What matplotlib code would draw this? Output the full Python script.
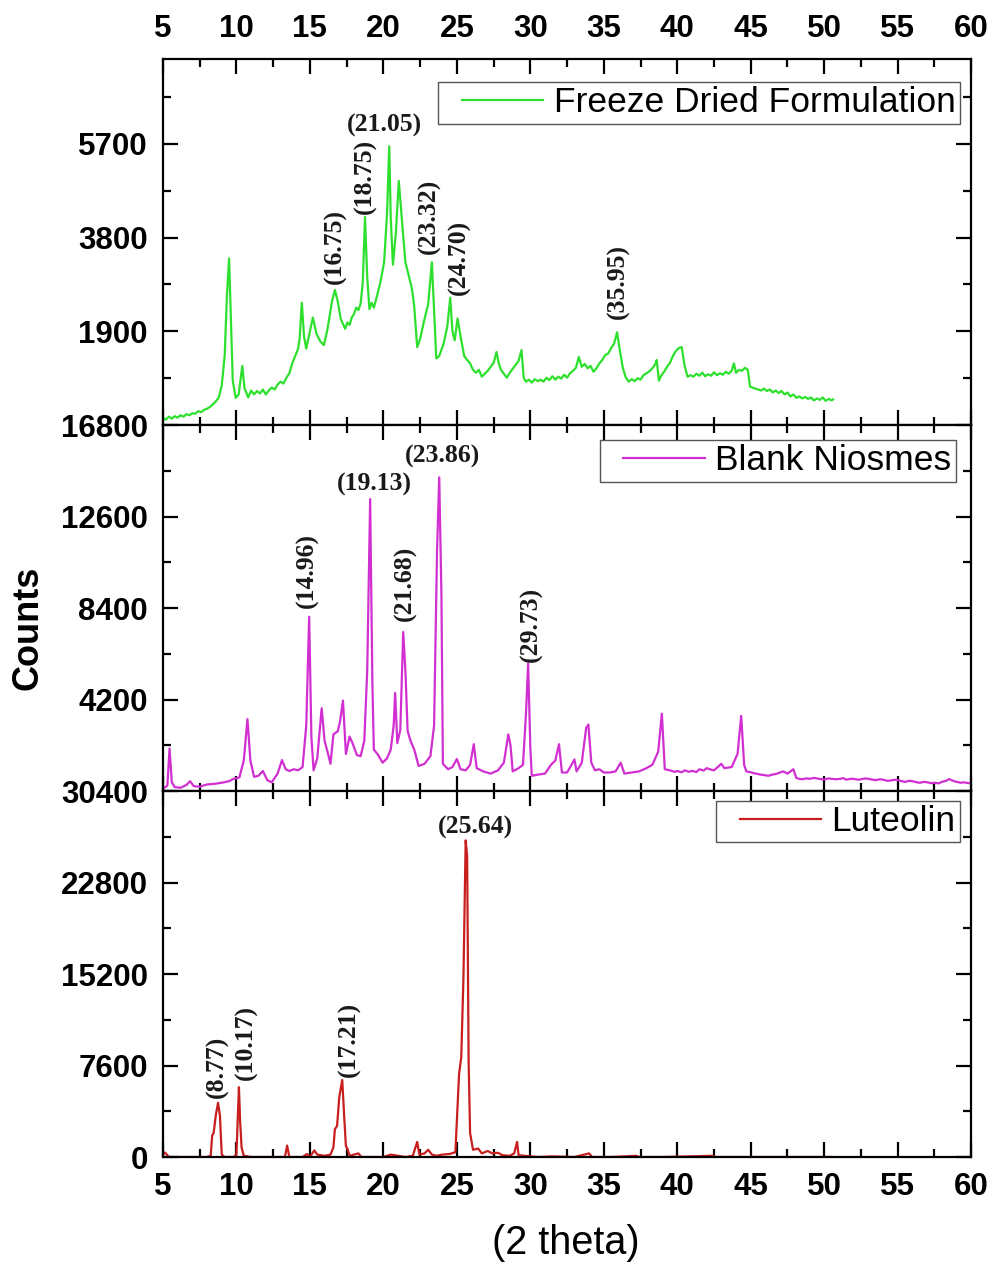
import numpy as np
import matplotlib
matplotlib.use("Agg")
import matplotlib.pyplot as plt
from matplotlib.legend_handler import HandlerLine2D

plt.rcParams["font.family"] = ["Liberation Sans", "DejaVu Sans"]
plt.rcParams["font.weight"] = "bold"

# Freeze dried formulation
fd_x = [5.0, 5.2, 5.4, 5.6, 5.8, 6.0, 6.2, 6.4, 6.6, 6.8, 7.0, 7.2, 7.4, 7.6, 7.8, 8.0, 8.2, 8.4,
        8.6, 8.8, 9.0, 9.2, 9.35, 9.5, 9.6, 9.75, 9.95, 10.15, 10.4, 10.55, 10.8, 11.0, 11.2, 11.4,
        11.6, 11.8, 12.0, 12.2, 12.4, 12.6, 12.8, 13.0, 13.2, 13.4, 13.6, 13.8, 14.0, 14.2, 14.3,
        14.45, 14.6, 14.75, 15.0, 15.2, 15.45, 15.7, 15.95, 16.2, 16.5, 16.7, 16.9, 17.1, 17.4, 17.55,
        17.7, 17.85, 18.0, 18.15, 18.3, 18.45, 18.6, 18.75, 18.9, 19.05, 19.2, 19.35, 19.55, 19.8,
        20.05, 20.25, 20.4, 20.5, 20.65, 20.85, 21.05, 21.25, 21.5, 21.75, 21.95, 22.1, 22.3, 22.5,
        22.8, 23.05, 23.3, 23.45, 23.6, 23.8, 24.1, 24.35, 24.55, 24.7, 24.85, 25.05, 25.25, 25.5,
        25.7, 25.9, 26.1, 26.3, 26.5, 26.7, 26.9, 27.1, 27.3, 27.5, 27.7, 27.85, 28.0, 28.2, 28.4,
        28.6, 28.8, 29.0, 29.2, 29.4, 29.55, 29.7, 29.9, 30.1, 30.3, 30.5, 30.7, 30.9, 31.1, 31.3,
        31.5, 31.7, 31.9, 32.1, 32.3, 32.5, 32.7, 32.9, 33.1, 33.3, 33.5, 33.7, 33.9, 34.1, 34.3,
        34.5, 34.7, 34.9, 35.1, 35.3, 35.5, 35.7, 35.9, 36.1, 36.3, 36.5, 36.7, 36.9, 37.1, 37.3,
        37.5, 37.7, 37.9, 38.1, 38.3, 38.5, 38.6, 38.75, 38.9, 39.1, 39.3, 39.5, 39.7, 39.9, 40.1,
        40.3, 40.5, 40.7, 40.9, 41.1, 41.3, 41.5, 41.7, 41.9, 42.1, 42.3, 42.5, 42.7, 42.9, 43.1,
        43.3, 43.5, 43.7, 43.85, 44.0, 44.2, 44.4, 44.6, 44.8, 44.95, 45.1, 45.3, 45.5, 45.7, 45.9,
        46.1, 46.3, 46.5, 46.7, 46.9, 47.1, 47.3, 47.5, 47.7, 47.9, 48.1, 48.3, 48.5, 48.7, 48.9,
        49.1, 49.3, 49.5, 49.7, 49.9, 50.1, 50.3, 50.5, 50.6]
fd_y = [150, 110, 170, 130, 180, 150, 200, 170, 220, 200, 240, 230, 280, 260, 310, 330, 370, 420,
        480, 560, 800, 1400, 2600, 3380, 2400, 900, 550, 620, 1200, 750, 560, 700, 620, 690,
        640, 720, 620, 700, 760, 720, 820, 880, 840, 960, 1050, 1250, 1400, 1550, 1750,
        2480, 1800, 1550, 1900, 2180, 1850, 1700, 1620, 1950, 2500, 2740, 2500, 2150, 1950, 2080,
        2030, 2180, 2250, 2380, 2330, 2460, 2900, 4220, 3000, 2350, 2480, 2380, 2600, 2900,
        3300, 4300, 5650, 4200, 3250, 3900, 4950, 4200, 3300, 3000, 2750, 2400, 1580, 1750,
        2150, 2450, 3300, 2300, 1350, 1400, 1650, 2000, 2580, 1900, 1720, 2160, 1800, 1400,
        1320, 1250, 1120, 1060, 1120, 980, 1040, 1100, 1180, 1260, 1480, 1250, 1120, 1040, 960,
        1060, 1140, 1220, 1300, 1520, 960, 880, 920, 860, 930, 890, 920, 880, 960, 910,
        990, 920, 980, 940, 1020, 960, 1050, 1100, 1160, 1380, 1180, 1240, 1150, 1200, 1080,
        1150, 1250, 1320, 1420, 1450, 1560, 1650, 1880, 1500, 1150, 960, 880, 930, 890, 950,
        920, 1010, 1050, 1090, 1150, 1230, 1320, 900, 1000, 1080, 1180, 1260, 1400, 1500, 1560,
        1580, 1200, 980, 1010, 980, 1040, 1000, 1060, 990, 1030, 1000, 1070, 1010, 1050, 1020,
        1080, 1040, 1100, 1250, 1060, 1120, 1100, 1160, 1120, 780, 760, 740, 720, 700, 740,
        690, 720, 660, 700, 650, 690, 620, 660, 580, 620, 550, 580, 540, 570, 530,
        560, 500, 540, 510, 560, 490, 530, 500, 520]

# Blank niosomes (middle panel)
bn_x = [5.0, 5.3, 5.45, 5.6, 5.8, 6.2, 6.6, 6.85, 7.1, 7.5, 8.0, 8.5, 9.0, 9.5, 9.8, 10.2, 10.5, 10.75,
        10.95, 11.2, 11.5, 11.8, 12.1, 12.4, 12.8, 13.1, 13.35, 13.6, 13.9, 14.2, 14.5, 14.75, 14.95,
        15.1, 15.25, 15.5, 15.8, 16.0, 16.2, 16.4, 16.6, 16.9, 17.05, 17.25, 17.45, 17.7, 17.9, 18.2,
        18.45, 18.7, 18.9, 19.1, 19.25, 19.35, 19.6, 19.95, 20.25, 20.5, 20.7, 20.8, 20.95, 21.15, 21.35,
        21.5, 21.65, 21.85, 22.1, 22.4, 22.8, 23.2, 23.45, 23.65, 23.8, 23.95, 24.05, 24.4, 24.7, 25.0,
        25.25, 25.6, 25.9, 26.15, 26.35, 26.8, 27.3, 27.8, 28.2, 28.5, 28.65, 28.8, 29.2, 29.5, 29.7,
        29.85, 30.0, 30.1, 30.5, 31.0, 31.4, 31.7, 31.95, 32.15, 32.5, 32.8, 33.0, 33.15, 33.5, 33.8,
        33.95, 34.15, 34.4, 34.7, 35.0, 35.4, 35.8, 36.15, 36.4, 36.9, 37.4, 37.9, 38.3, 38.7, 38.95,
        39.15, 39.5, 39.8, 40.0, 40.3, 40.5, 40.8, 41.0, 41.3, 41.5, 41.8, 42.0, 42.3, 42.5, 43.0,
        43.2, 43.7, 44.1, 44.35, 44.55, 44.7, 45.0, 45.2, 45.5, 45.7, 46.0, 46.2, 46.5, 46.7, 47.0,
        47.2, 47.5, 47.9, 48.1, 48.3, 48.5, 48.8, 49.0, 49.3, 49.5, 49.8, 50.0, 50.3, 50.5, 50.8,
        51.0, 51.3, 51.5, 51.8, 52.0, 52.3, 52.5, 52.8, 53.0, 53.3, 53.5, 53.8, 54.0, 54.3, 54.5,
        54.8, 55.0, 55.3, 55.5, 55.8, 56.0, 56.3, 56.5, 56.8, 57.0, 57.3, 57.5, 57.8, 58.0, 58.3,
        58.5, 58.8, 59.0, 59.3, 59.5, 59.8, 60.0]
bn_y = [100, 250, 1950, 400, 180, 150, 280, 450, 220, 200, 300, 330, 380, 450, 560, 620, 1400, 3300,
        1400, 650, 700, 920, 500, 400, 800, 1420, 1000, 920, 1000, 950, 1100, 3000, 8000,
        2500, 950, 1500, 3800, 2300, 1800, 1250, 2600, 2750, 3200, 4150, 1700, 2500, 2200, 1650,
        1600, 2300, 5500, 13400, 5000, 1900, 1700, 1300, 1500, 1900, 3000, 4500, 2200, 2800, 7300,
        5500, 2750, 2300, 1900, 1150, 1250, 1600, 3000, 11000, 14400, 9000, 1250, 1000, 1100, 1470,
        1000, 950, 1200, 2150, 1050, 900, 800, 950, 1300, 2600, 2100, 900, 1050, 1200, 3500,
        5850, 2000, 700, 750, 800, 1200, 1400, 2150, 850, 850, 1200, 1450, 900, 1300, 2900,
        3050, 1300, 950, 1000, 850, 850, 900, 1300, 800, 850, 900, 1050, 1200, 1800, 3550,
        1000, 950, 880, 920, 860, 950, 880, 930, 870, 1000, 940, 1050, 980, 950, 1250,
        1050, 1100, 1700, 3450, 1200, 900, 860, 820, 780, 750, 720, 700, 760, 780, 850,
        900, 800, 1000, 600, 560, 540, 580, 560, 600, 580, 540, 530, 580, 560, 540,
        550, 590, 520, 560, 560, 520, 540, 580, 560, 520, 500, 540, 520, 470, 480,
        520, 500, 450, 420, 470, 450, 400, 380, 420, 400, 360, 380, 350, 420, 470,
        550, 460, 420, 380, 400, 360, 380]

# Luteolin (bottom panel)
lu_x = [5.0, 5.05, 5.2, 5.4, 6.0, 7.0, 8.0, 8.25, 8.35, 8.45, 8.6, 8.75, 8.88, 9.0, 9.2, 9.8, 10.0,
        10.1, 10.17, 10.25, 10.35, 10.5, 11.0, 12.0, 13.3, 13.45, 13.6, 14.5, 14.8, 15.0, 15.3, 15.5,
        16.0, 16.4, 16.6, 16.7, 16.85, 17.0, 17.2, 17.35, 17.45, 17.55, 17.7, 18.3, 18.5, 19.5, 20.0,
        20.5, 21.0, 21.5, 22.0, 22.3, 22.45, 22.8, 23.05, 23.3, 23.6, 24.0, 24.5, 24.9, 25.15, 25.3,
        25.45, 25.6, 25.7, 25.8, 25.9, 26.1, 26.45, 26.7, 27.1, 27.4, 27.8, 28.1, 28.6, 28.9, 29.1,
        29.2, 29.6, 30.5, 31.5, 33.0, 34.0, 34.2, 35.5, 37.2, 37.4, 39.0, 42.4, 42.6, 45.0, 48.0, 50.5]
lu_y = [0, 400, 300, 0, 0, 0, 0, 100, 1800, 2000, 3500, 4500, 3400, 200, 0, 0, 200,
        3500, 5800, 3000, 800, 100, 0, 0, 0, 950, 0, 0, 250, 0, 550, 200,
        100, 200, 800, 2300, 2600, 5000, 6400, 3000, 900, 700, 100, 300, 0, 0, 0,
        200, 100, 0, 100, 1250, 200, 300, 600, 200, 100, 200, 250, 400, 6900, 8300,
        15000, 26300, 25000, 8000, 2000, 600, 700, 300, 500, 300, 350, 150, 100, 300, 1250,
        150, 100, 0, 50, 0, 300, 0, 0, 100, 0, 0, 100, 0, 0, 0, 0]

series_names = ["Freeze Dried Formulation", "Blank Niosmes", "Luteolin"]
colors = ["#2ee02e", "#d12fd1", "#c81e1e"]

# peak labels: text, x, y, rotation
fd_peaks = [("(16.75)", 16.7, 3620, 90), ("(18.75)", 18.75, 5050, 90), ("(21.05)", 20.1, 6070, 0),
            ("(23.32)", 23.1, 4230, 90), ("(24.70)", 25.2, 3390, 90), ("(35.95)", 36.0, 2920, 90)]
bn_peaks = [("(14.96)", 14.8, 10100, 90), ("(19.13)", 19.36, 14090, 0), ("(21.68)", 21.5, 9550, 90),
            ("(23.86)", 24.0, 15380, 0), ("(29.73)", 30.1, 7660, 90)]
lu_peaks = [("(8.77)", 8.7, 7480, 90), ("(10.17)", 10.7, 9470, 90), ("(17.21)", 17.66, 9800, 90),
            ("(25.64)", 26.24, 27400, 0)]

fig, axes = plt.subplots(3, 1, figsize=(9.9, 12.62), dpi=100, sharex=True)
fig.subplots_adjust(left=0.1646, right=0.981, top=0.9532, bottom=0.0832, hspace=0)

xs = [fd_x, bn_x, lu_x]
ys = [fd_y, bn_y, lu_y]
peaks = [fd_peaks, bn_peaks, lu_peaks]
ylims = [7420, 16800, 30400]
yticks = [[1900, 3800, 5700], [4200, 8400, 12600, 16800], [0, 7600, 15200, 22800, 30400]]
yminor = [[950, 2850, 4750, 6650], [2100, 6300, 10500, 14700], [3800, 11400, 19000, 26600]]
leg_anchor = [(0.986, 0.937), (0.981, 0.959), (0.986, 0.973)]

for i, ax in enumerate(axes):
    line, = ax.plot(xs[i], ys[i], color=colors[i], lw=1.6, label=series_names[i])
    ax.set_xlim(5, 60)
    ax.set_ylim(0, ylims[i])
    ax.set_xticks(np.arange(5, 61, 5))
    ax.set_xticks(np.arange(7.5, 60, 5), minor=True)
    ax.set_yticks(yticks[i])
    ax.set_yticks(yminor[i], minor=True)
    ax.tick_params(which="both", direction="in", top=True, right=True, width=1.6,
                   labelsize=22.5, pad=11)
    ax.tick_params(which="major", length=11)
    ax.tick_params(which="minor", length=6)
    for sp in ax.spines.values():
        sp.set_linewidth(1.6)
    for txt, px, py, rot in peaks[i]:
        ax.text(px, py, txt, rotation=rot, ha="center", va="center", fontsize=18.5,
                fontweight="bold", family=["Liberation Serif", "DejaVu Serif"], color="#1a1a1a")
    leg = ax.legend(loc="upper right", bbox_to_anchor=leg_anchor[i], borderaxespad=0,
                    prop={"size": 25.5, "weight": "normal"}, fancybox=False, framealpha=1,
                    edgecolor="#555555", handlelength=2.85, handletextpad=0.3, borderpad=0.12,
                    handler_map={line: HandlerLine2D(xpad=0.55)})
    leg.get_frame().set_linewidth(1.0)

axes[0].tick_params(labeltop=True, labelbottom=False)
axes[1].tick_params(labelbottom=False)

fig.text(28 / 990, 1 - 628 / 1262, "Counts", rotation=90, ha="center", va="center",
         fontsize=26, fontweight="bold")
fig.text(566 / 990, 1 - 1243 / 1262, "(2 theta)", ha="center", va="center", fontsize=28.5,
         fontweight="normal")

fig.savefig("out.png", dpi=100)
